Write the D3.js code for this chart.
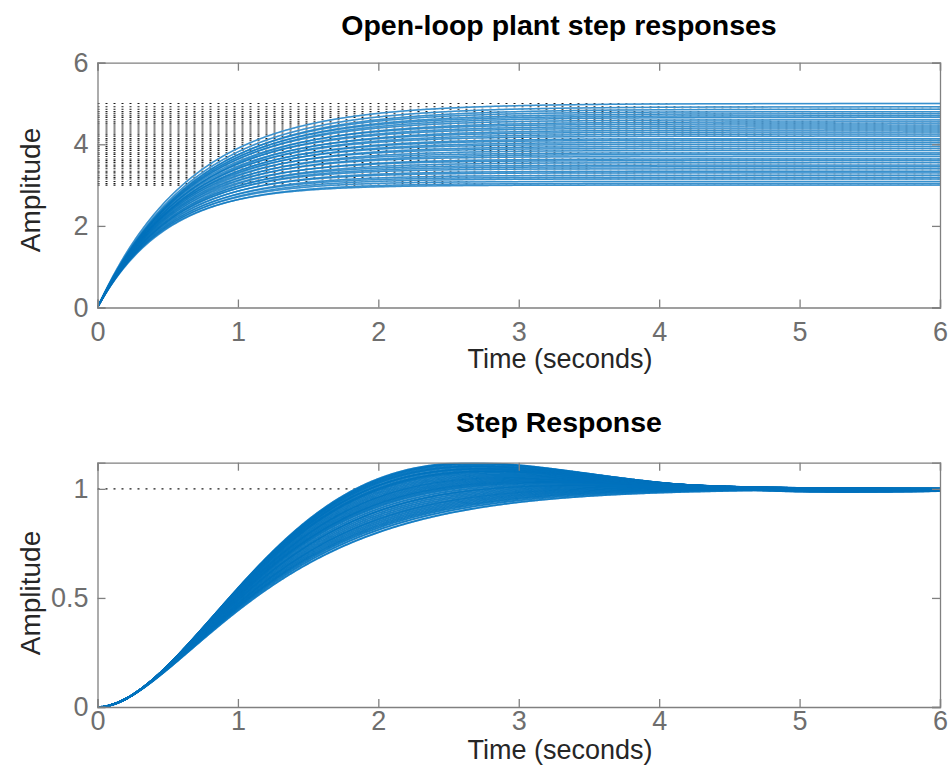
<!DOCTYPE html>
<html>
<head>
<meta charset="utf-8">
<script src="https://cdn.jsdelivr.net/npm/d3@7"></script>
<style>
  html, body { margin: 0; padding: 0; background: #fff; }
  svg { display: block; }
  text { font-family: "Liberation Sans", Arial, Helvetica, sans-serif; }
</style>
</head>
<body>
<svg id="chart" width="950" height="771"></svg>
<script>
// ---------------- DATA ----------------
// Top panel: open-loop first-order plants  k / (tau s + 1)
const plantGain = [3.00, 3.04, 3.09, 3.15, 3.19, 3.24, 3.30, 3.34, 3.40, 3.45,
                   3.49, 3.55, 3.60, 3.64, 3.70, 3.75, 3.79, 3.85, 3.90, 3.95,
                   4.00, 4.05, 4.10, 4.14, 4.20, 4.25, 4.30, 4.35, 4.40, 4.45,
                   4.50, 4.55, 4.60, 4.66, 4.70, 4.75, 4.80, 4.86, 4.92, 5.00];
const plantTau  = [0.47, 0.49, 0.48, 0.50, 0.49, 0.51, 0.50, 0.52, 0.51, 0.53,
                   0.52, 0.55, 0.53, 0.56, 0.54, 0.57, 0.55, 0.58, 0.56, 0.59,
                   0.57, 0.60, 0.59, 0.61, 0.60, 0.62, 0.61, 0.64, 0.62, 0.64,
                   0.63, 0.66, 0.64, 0.66, 0.65, 0.67, 0.66, 0.68, 0.67, 0.66];
// Bottom panel: closed-loop second-order responses (damping, natural freq.)
const loopZeta  = [0.560, 0.565, 0.570, 0.580, 0.585, 0.590, 0.600, 0.605, 0.610, 0.620,
                   0.625, 0.630, 0.640, 0.650, 0.660, 0.670, 0.680, 0.690, 0.700, 0.710,
                   0.720, 0.730, 0.740, 0.750, 0.760, 0.775, 0.790, 0.800, 0.815, 0.830,
                   0.845, 0.860, 0.875, 0.890, 0.905, 0.920, 0.940, 0.955, 0.975, 1.000];
const loopWn    = [1.42, 1.42, 1.42, 1.43, 1.43, 1.43, 1.43, 1.44, 1.44, 1.44,
                   1.44, 1.44, 1.45, 1.45, 1.45, 1.45, 1.45, 1.46, 1.46, 1.46,
                   1.46, 1.46, 1.47, 1.47, 1.47, 1.47, 1.47, 1.48, 1.48, 1.48,
                   1.48, 1.48, 1.49, 1.49, 1.49, 1.49, 1.50, 1.50, 1.50, 1.50];
const closedLoopFinal = 1;

const xTicks    = [0, 1, 2, 3, 4, 5, 6];
const yTicksTop = [0, 2, 4, 6];
const yTicksBot = [0, 0.5, 1];
const titleTop  = "Open-loop plant step responses";
const titleBot  = "Step Response";
const xLabel    = "Time (seconds)";
const yLabel    = "Amplitude";

// ---------------- helpers ----------------
const timeGrid = d3.range(0, 6.0001, 0.01);

function firstOrderStep(k, tau) {
  return timeGrid.map(t => [t, k * (1 - Math.exp(-t / tau))]);
}
function secondOrderStep(z, wn) {
  return timeGrid.map(t => {
    let y;
    if (z < 1) {
      const wd = wn * Math.sqrt(1 - z * z);
      y = 1 - Math.exp(-z * wn * t) * (Math.cos(wd * t) + z / Math.sqrt(1 - z * z) * Math.sin(wd * t));
    } else if (z === 1) {
      y = 1 - (1 + wn * t) * Math.exp(-wn * t);
    } else {
      const s = Math.sqrt(z * z - 1);
      const p1 = wn * (z + s), p2 = wn * (z - s);
      y = 1 - (p1 * Math.exp(-p2 * t) - p2 * Math.exp(-p1 * t)) / (p1 - p2);
    }
    return [t, y];
  });
}

// ---------------- layout ----------------
const svg = d3.select("#chart");
const L = 97.5, R = 940;
const panels = [
  { top: 62.7, bottom: 307.5, domain: [0, 6], ticks: yTicksTop, fmt: d3.format("d"),
    title: titleTop, titleY: 35, xLabY: 368, xTickPad: 14,
    underW: 1.6, overW: 1.4, overOp: 0.6 },
  { top: 462.7, bottom: 707, domain: [0, 1.12], ticks: yTicksBot, fmt: d => String(d),
    title: titleBot, titleY: 432, xLabY: 759, xTickPad: 4,
    underW: 2.0, overW: 1.8, overOp: 0.85 }
];

const blue = "#0072BD";
const lightBlue = "#8fc0e6";
const tickColor = "#6e6e6e";
const boxColor = "#808080";
const labelColor = "#262626";
const dotColor = "#1a1a1a";

const x = d3.scaleLinear().domain([0, 6]).range([L, R]);

panels.forEach((p, i) => {
  const y = d3.scaleLinear().domain(p.domain).range([p.bottom, p.top]);
  const g = svg.append("g");

  const clipId = "clip" + i;
  svg.append("clipPath").attr("id", clipId)
    .append("rect").attr("x", L).attr("y", p.top).attr("width", R - L).attr("height", p.bottom - p.top);

  const plot = g.append("g").attr("clip-path", `url(#${clipId})`);
  const line = d3.line().x(d => x(d[0])).y(d => y(d[1]));

  // steady-state (final value) dotted lines
  const finals = i === 0 ? plantGain : [closedLoopFinal];
  finals.forEach(k => {
    plot.append("line")
      .attr("x1", x(0)).attr("x2", x(6))
      .attr("y1", y(k)).attr("y2", y(k))
      .attr("stroke", dotColor).attr("stroke-width", 1.1)
      .attr("stroke-dasharray", "2 6");
  });

  // responses
  const curves = i === 0
    ? plantGain.map((k, j) => firstOrderStep(k, plantTau[j]))
    : loopZeta.map((z, j) => secondOrderStep(z, loopWn[j]));

  curves.forEach(c => {
    plot.append("path").attr("d", line(c))
      .attr("fill", "none").attr("stroke", lightBlue).attr("stroke-width", p.underW);
  });
  curves.forEach(c => {
    plot.append("path").attr("d", line(c))
      .attr("fill", "none").attr("stroke", blue)
      .attr("stroke-width", p.overW).attr("stroke-opacity", p.overOp);
  });

  // axes (ticks inside on all four sides)
  const tk = 8;
  const ax = d3.axisBottom(x).tickValues(xTicks).tickFormat(d3.format("d"))
    .tickSize(-tk).tickPadding(p.xTickPad);
  const axT = d3.axisTop(x).tickValues(xTicks).tickFormat("").tickSize(-tk);
  const ay = d3.axisLeft(y).tickValues(p.ticks).tickFormat(p.fmt).tickSize(-tk).tickPadding(9);
  const ayR = d3.axisRight(y).tickValues(p.ticks).tickFormat("").tickSize(-tk);

  const styleAxis = sel => {
    sel.selectAll(".domain").attr("stroke", boxColor).attr("stroke-width", 1.3).attr("fill", "none");
    sel.selectAll(".tick line").attr("stroke", boxColor).attr("stroke-width", 1.3);
    sel.selectAll(".tick text").attr("fill", tickColor)
      .style("font-size", "27px")
      .style("font-family", '"Liberation Sans", Arial, Helvetica, sans-serif');
  };
  g.append("g").attr("transform", `translate(0,${p.bottom})`).call(ax).call(styleAxis);
  g.append("g").attr("transform", `translate(0,${p.top})`).call(axT).call(styleAxis);
  g.append("g").attr("transform", `translate(${L},0)`).call(ay).call(styleAxis);
  g.append("g").attr("transform", `translate(${R},0)`).call(ayR).call(styleAxis);

  // labels
  g.append("text").attr("x", 559).attr("y", p.titleY)
    .attr("text-anchor", "middle").attr("fill", "#000")
    .style("font-size", "28.5px").style("font-weight", "bold")
    .text(p.title);
  g.append("text").attr("x", 560).attr("y", p.xLabY)
    .attr("text-anchor", "middle").attr("fill", labelColor)
    .style("font-size", "27px")
    .text(xLabel);
  const cy = i === 0 ? 190 : 593;
  g.append("text")
    .attr("transform", `translate(40,${cy}) rotate(-90)`)
    .attr("text-anchor", "middle").attr("fill", labelColor)
    .style("font-size", "28px")
    .text(yLabel);
});
</script>
</body>
</html>
